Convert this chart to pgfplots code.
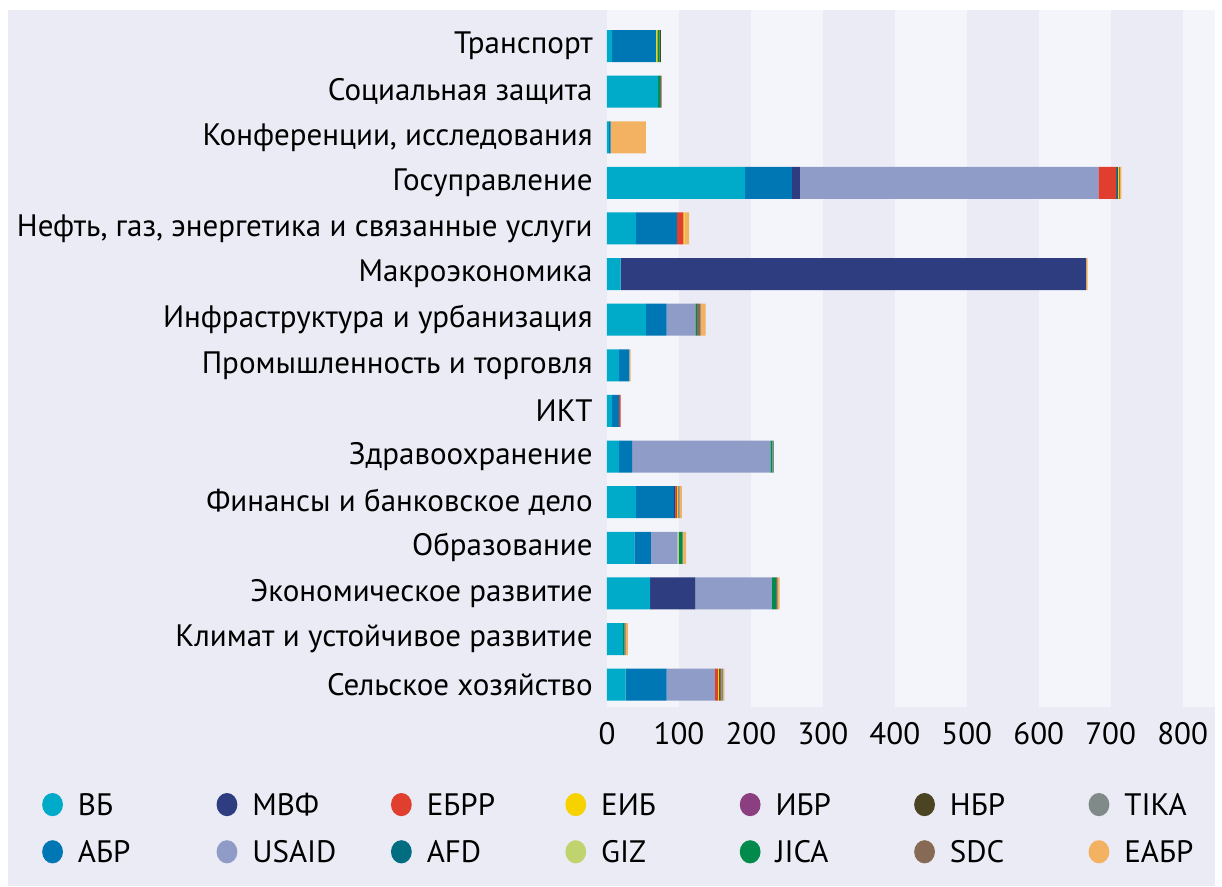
\documentclass[border=0pt]{standalone}
\usepackage{fontspec}
\setmainfont{PT Sans}
\usepackage{pgfplots}
\usepackage{pgfplotstable}
\pgfplotsset{compat=1.18}

\definecolor{bgc}{HTML}{EAEBF4}
\definecolor{bandc}{HTML}{F4F5FA}
\definecolor{cWB}{HTML}{00AAC9}
\definecolor{cADB}{HTML}{0077B5}
\definecolor{cIMF}{HTML}{2E3D80}
\definecolor{cUSAID}{HTML}{8F9CC7}
\definecolor{cEBRD}{HTML}{E03E2E}
\definecolor{cAFD}{HTML}{006E80}
\definecolor{cEIB}{HTML}{F5D200}
\definecolor{cGIZ}{HTML}{BFD46E}
\definecolor{cIDB}{HTML}{8B3F80}
\definecolor{cJICA}{HTML}{008A4C}
\definecolor{cNBR}{HTML}{4A4422}
\definecolor{cSDC}{HTML}{876A55}
\definecolor{cTIKA}{HTML}{808A88}
\definecolor{cEDB}{HTML}{F2B262}

% categories bottom (0) to top (14)
\pgfplotstableread{
y  wb  adb imf usaid ebrd afd eib giz idb jica nbr sdc tika edb
0  26  57  0   67    4    0   2   0   0   0    2   1   2    2
1  22  0   0   0     0    0   0   0   0   2    0   2   0    3
2  60  0   63  106   0    0   0   0   0   6    0   2   0    3
3  38  23  0   37    0    0   0   2   0   5    0   0   0    5
4  40  53  2   0     2    0   2   0   0   0    0   0   2    3
5  17  18  0   192   0    0   0   0   0   3    0   0   2    0
6  7   10  0   0     2    0   0   0   0   0    0   0   0    0
7  17  14  0   0     0    0   0   0   0   0    0   0   0    2
8  54  29  0   40    0    0   0   0   0   2    0   5   0    7
9  19  0   647 0     0    0   0   0   0   0    0   0   0    2
10 40  57  0   0     9    0   2   0   0   0    0   0   0    6
11 192 65  11  415   25   2   2   0   1   0    0   0   0    2
12 3   2   0   0     0    0   0   0   0   0    0   0   0    49
13 71  0   0   0     0    0   0   0   0   3    0   2   0    0
14 7   61  0   0     0    0   2   0   0   3    2   0   0    0
}\data

\pgfplotsset{seg/.style={fill=#1, draw=none}}
\newcommand{\lt}[1]{\makebox[69pt][l]{#1}}

\begin{document}
\begin{tikzpicture}
\useasboundingbox (0pt,0pt) rectangle (611pt,443.5pt);
\fill[bgc] (4pt,0.5pt) rectangle (607.5pt,438.5pt);
\begin{axis}[
  at={(303.5pt,90pt)}, anchor=south west,
  scale only axis, width=304pt, height=348.5pt,
  xbar stacked, bar width=16pt,
  every axis plot post/.append style={legend image code/.code={%
    \fill[##1] (5.5pt,0pt) ellipse (5.2pt and 5.8pt);
    \path[fill=none, draw=none] (0pt,-5.5pt) rectangle (18.2pt,5.5pt);}},
  xmin=0, xmax=845, ymin=-0.49, ymax=14.79,
  axis line style={draw=none}, major tick length=0pt, minor tick length=0pt,
  xtick={0,100,...,800}, ytick={0,...,14},
  extra x ticks={50,250,450,650}, extra x tick labels={},
  extra x tick style={grid=major, major grid style={line width=36pt, draw=bandc}},
  minor xtick={822.5}, minor x grid style={line width=16.2pt, draw=bandc}, xminorgrids=true,
  yticklabels={Сельское хозяйство, Климат и устойчивое развитие, Экономическое развитие, Образование, Финансы и банковское дело, Здравоохранение, ИКТ, Промышленность и торговля, Инфраструктура и урбанизация, Макроэкономика, {Нефть, газ, энергетика и связанные услуги}, Госуправление, {Конференции, исследования}, Социальная защита, Транспорт},
  tick label style={font=\fontsize{15.5}{18}\selectfont},
  /pgf/number format/assume math mode=true,
  yticklabel style={inner sep=0pt, xshift=-7pt},
  xticklabel style={inner sep=0pt, yshift=-7.5pt},
  legend columns=2, transpose legend,
  legend style={at={(-0.930,-0.1234)}, anchor=north west, draw=none, fill=none,
    inner sep=0pt, outer sep=0pt, font=\fontsize{15.5}{18}\selectfont,
    nodes={inner sep=0pt, text height=11pt, text depth=0pt},
    /tikz/row sep=12pt, /tikz/column sep=0pt},
  legend cell align=left,
]
  \addplot[seg=cWB] table[x=wb, y=y] {\data}; \addlegendentry{\lt{ВБ}}
  \addplot[seg=cADB] table[x=adb, y=y] {\data}; \addlegendentry{\lt{АБР}}
  \addplot[seg=cIMF] table[x=imf, y=y] {\data}; \addlegendentry{\lt{МВФ}}
  \addplot[seg=cUSAID] table[x=usaid, y=y] {\data}; \addlegendentry{\lt{USAID}}
  \addplot[seg=cEBRD] table[x=ebrd, y=y] {\data}; \addlegendentry{\lt{ЕБРР}}
  \addplot[seg=cAFD] table[x=afd, y=y] {\data}; \addlegendentry{\lt{AFD}}
  \addplot[seg=cEIB] table[x=eib, y=y] {\data}; \addlegendentry{\lt{ЕИБ}}
  \addplot[seg=cGIZ] table[x=giz, y=y] {\data}; \addlegendentry{\lt{GIZ}}
  \addplot[seg=cIDB] table[x=idb, y=y] {\data}; \addlegendentry{\lt{ИБР}}
  \addplot[seg=cJICA] table[x=jica, y=y] {\data}; \addlegendentry{\lt{JICA}}
  \addplot[seg=cNBR] table[x=nbr, y=y] {\data}; \addlegendentry{\lt{НБР}}
  \addplot[seg=cSDC] table[x=sdc, y=y] {\data}; \addlegendentry{\lt{SDC}}
  \addplot[seg=cTIKA] table[x=tika, y=y] {\data}; \addlegendentry{\lt{TIKA}}
  \addplot[seg=cEDB] table[x=edb, y=y] {\data}; \addlegendentry{\lt{ЕАБР}}
\end{axis}
\end{tikzpicture}
\end{document}
